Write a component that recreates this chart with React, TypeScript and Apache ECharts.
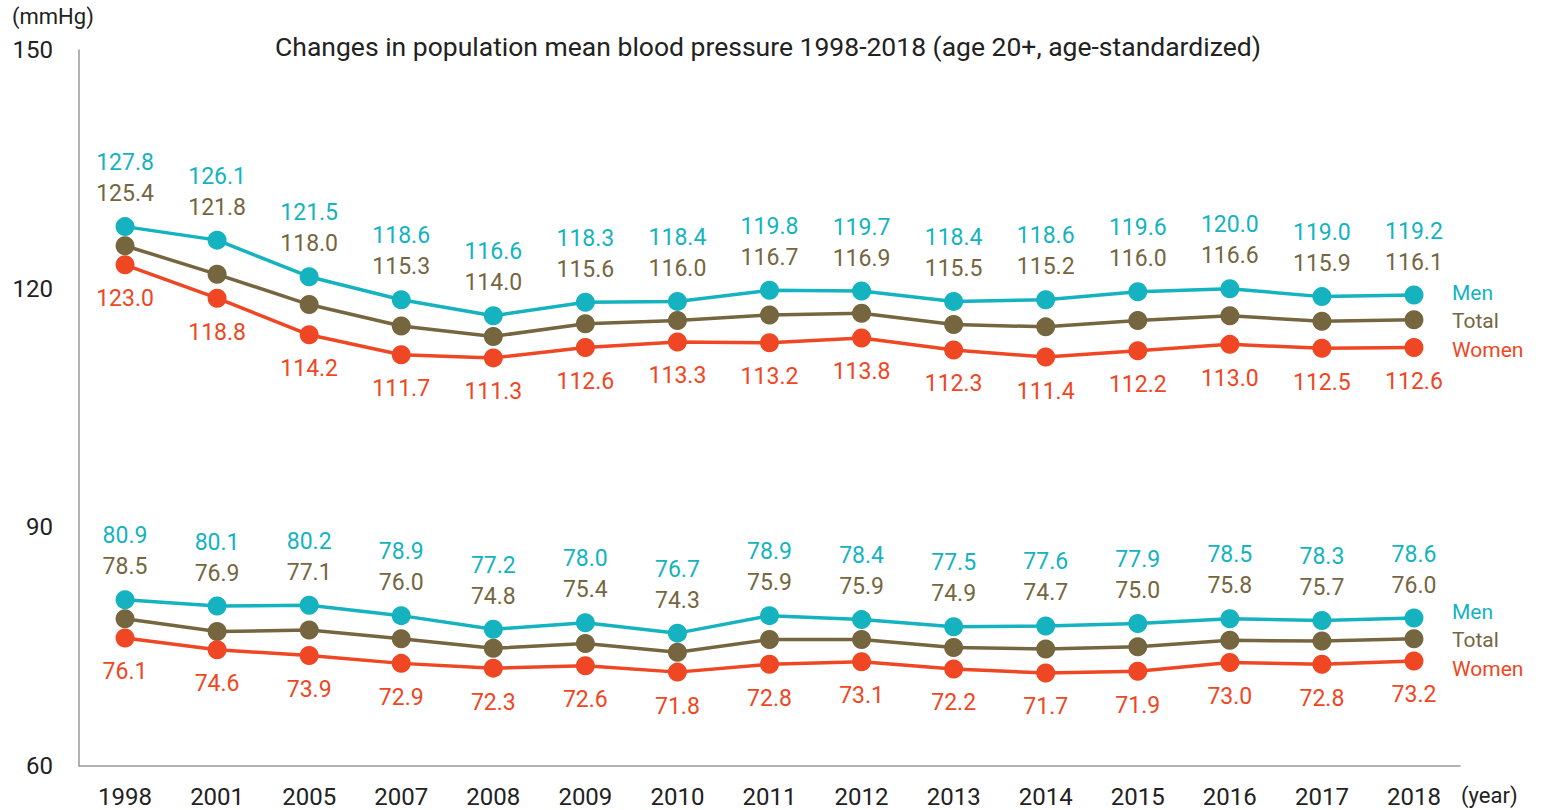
import React, { useEffect, useRef } from "react";
import * as echarts from "echarts";

const years = ["1998", "2001", "2005", "2007", "2008", "2009", "2010", "2011", "2012", "2013", "2014", "2015", "2016", "2017", "2018"];
const menSBP = [127.8, 126.1, 121.5, 118.6, 116.6, 118.3, 118.4, 119.8, 119.7, 118.4, 118.6, 119.6, 120.0, 119.0, 119.2];
const totalSBP = [125.4, 121.8, 118.0, 115.3, 114.0, 115.6, 116.0, 116.7, 116.9, 115.5, 115.2, 116.0, 116.6, 115.9, 116.1];
const womenSBP = [123.0, 118.8, 114.2, 111.7, 111.3, 112.6, 113.3, 113.2, 113.8, 112.3, 111.4, 112.2, 113.0, 112.5, 112.6];
const menDBP = [80.9, 80.1, 80.2, 78.9, 77.2, 78.0, 76.7, 78.9, 78.4, 77.5, 77.6, 77.9, 78.5, 78.3, 78.6];
const totalDBP = [78.5, 76.9, 77.1, 76.0, 74.8, 75.4, 74.3, 75.9, 75.9, 74.9, 74.7, 75.0, 75.8, 75.7, 76.0];
const womenDBP = [76.1, 74.6, 73.9, 72.9, 72.3, 72.6, 71.8, 72.8, 73.1, 72.2, 71.7, 71.9, 73.0, 72.8, 73.2];

const title = "Changes in population mean blood pressure 1998-2018 (age 20+, age-standardized)";
const MEN = "#14b3bf";
const TOTAL = "#76663f";
const WOMEN = "#ef4623";
const FONT = "Roboto, 'Noto Sans', sans-serif";
const TEXT = "#222";

export default function App() {
  const ref = useRef<HTMLDivElement>(null);
  useEffect(() => {
    if (!ref.current) return;
    const chart = echarts.init(ref.current, null, { renderer: "svg" });
    const fmt = (p: any) => Number(p.value).toFixed(1);
    const lineSeries = (name: string, data: number[], color: string, labelDy: number, showLabel: boolean, endDy: number) => ({
      type: "line",
      name,
      data,
      symbol: "circle",
      symbolSize: 19,
      lineStyle: { color, width: 3.5 },
      itemStyle: { color },
      z: 3,
      label: {
        show: showLabel,
        position: "inside",
        offset: [0, labelDy],
        color,
        fontSize: 23,
        fontWeight: 400,
        fontFamily: FONT,
        textBorderWidth: 0,
        formatter: fmt,
      },
      endLabel: {
        show: true,
        formatter: name,
        color,
        fontSize: 21,
        fontFamily: FONT,
        distance: 38,
        offset: [0, endDy],
      },
    });
    const totalLabels = (men: number[], total: number[]) => ({
      type: "scatter",
      data: men.map((v, i) => ({ value: v, label: { formatter: total[i].toFixed(1) } })),
      symbolSize: 1,
      itemStyle: { color: "rgba(255,255,255,0)" },
      silent: true,
      z: 1,
      label: {
        show: true,
        position: "inside",
        offset: [0, -33],
        color: TOTAL,
        opacity: 1,
        textBorderWidth: 0,
        fontSize: 23,
        fontWeight: 400,
        fontFamily: FONT,
      },
    });
    chart.setOption({
      animation: false,
      textStyle: { fontFamily: FONT },
      grid: { left: 79, right: 84, top: 50, bottom: 44, containLabel: false },
      xAxis: {
        type: "category",
        data: years,
        boundaryGap: true,
        axisLine: { show: true, lineStyle: { color: "#999", width: 1.5 } },
        axisTick: { show: false },
        axisLabel: { color: TEXT, fontSize: 24, margin: 19, fontFamily: FONT, interval: 0 },
      },
      yAxis: {
        type: "value",
        min: 60,
        max: 150,
        interval: 30,
        axisLine: { show: true, lineStyle: { color: "#999", width: 1.5 } },
        axisTick: { show: false },
        splitLine: { show: false },
        axisLabel: { color: TEXT, fontSize: 24, margin: 26, fontFamily: FONT },
      },
      graphic: [
        { type: "text", left: 12, top: 5, style: { text: "(mmHg)", fontSize: 22, fill: TEXT, fontFamily: FONT } },
        { type: "text", left: 1461, top: 784, style: { text: "(year)", fontSize: 22, fill: TEXT, fontFamily: FONT } },
        {
          type: "text",
          x: 768,
          y: 46,
          style: { text: title, fontSize: 26.5, fill: TEXT, fontFamily: FONT, textAlign: "center", textVerticalAlign: "middle" },
        },
      ],
      series: [
        totalLabels(menSBP, totalSBP),
        totalLabels(menDBP, totalDBP),
        lineSeries("Total", totalSBP, TOTAL, 0, false, 1),
        lineSeries("Women", womenSBP, WOMEN, 34, true, 2),
        lineSeries("Men", menSBP, MEN, -64, true, -2),
        lineSeries("Total", totalDBP, TOTAL, 0, false, 1),
        lineSeries("Women", womenDBP, WOMEN, 34, true, 8),
        lineSeries("Men", menDBP, MEN, -64, true, -6),
      ],
    });
    return () => chart.dispose();
  }, []);
  return <div ref={ref} style={{ width: 1544, height: 810, position: "absolute", left: 0, top: 0 }} />;
}
